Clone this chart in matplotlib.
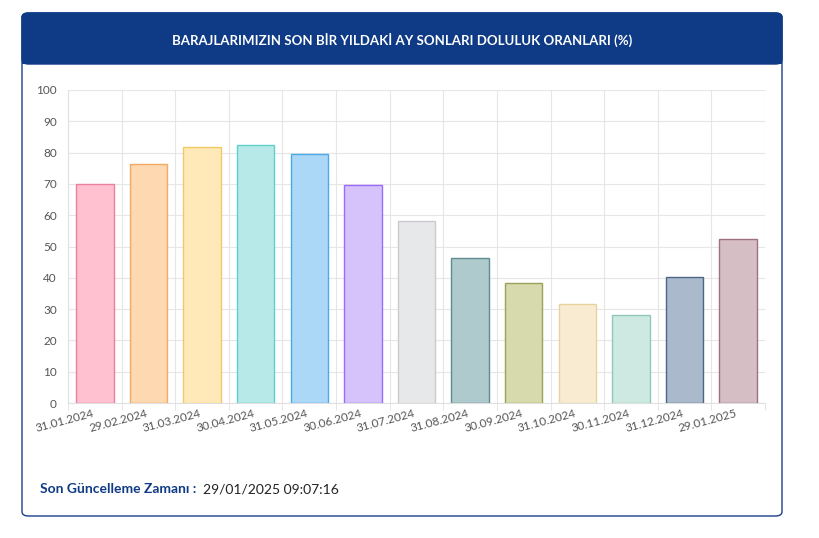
import matplotlib.pyplot as plt
from matplotlib.patches import FancyBboxPatch, Rectangle

dates = ["31.01.2024", "29.02.2024", "31.03.2024", "30.04.2024", "31.05.2024", "30.06.2024",
         "31.07.2024", "31.08.2024", "30.09.2024", "31.10.2024", "30.11.2024", "31.12.2024", "29.01.2025"]
values = [69.9, 76.2, 81.7, 82.5, 79.4, 69.5, 58.2, 46.4, 38.3, 31.7, 28.1, 40.1, 52.3]
fills = ["#ffc1d0", "#fed8b0", "#ffe9b8", "#b6e9e7", "#acd8f8", "#d6c3fb", "#e7e8ea",
         "#aecacd", "#d6daad", "#f8ebd1", "#cee9e2", "#abb9cd", "#d6bec5"]
edges = ["#ea809c", "#f1aa62", "#f1ca64", "#60d0ca", "#4ca9e7", "#9b6bff", "#c9cbcf",
         "#5f8c90", "#9aa25a", "#e7d3a0", "#90c8b8", "#4f6585", "#9e7080"]

plt.rcParams["font.family"] = "Lato"
fig = plt.figure(figsize=(8.2, 5.38), dpi=100)
W, H = 820, 538

# kart cercevesi ve baslik (eksenlerin arkasinda kalsin)
fig.patches.append(FancyBboxPatch((22 / W, 22 / H), 760 / W, 503 / H,
                                  boxstyle="round,pad=0,rounding_size=0.008", transform=fig.transFigure,
                                  facecolor="white", edgecolor="#1a3f8c", lw=1, zorder=-2))
fig.patches.append(FancyBboxPatch((22 / W, (538 - 64) / H), 760 / W, 51 / H,
                                  boxstyle="round,pad=0,rounding_size=0.008", transform=fig.transFigure,
                                  facecolor="#0e3a86", edgecolor="#0e3a86", zorder=-1))
fig.patches.append(Rectangle((22 / W, (538 - 64) / H), 760 / W, 15 / H,
                             transform=fig.transFigure, facecolor="#0e3a86", edgecolor="none", zorder=-1))
fig.text(402 / W, (538 - 40) / H, "BARAJLARIMIZIN SON BİR YILDAKİ AY SONLARI DOLULUK ORANLARI (%)",
         color="white", fontsize=9.5, fontweight="bold", ha="center", va="center")

ax = fig.add_axes([68 / W, (538 - 403) / H, 697 / W, 313 / H])
x = range(len(values))
ax.bar(x, values, width=0.7, color=fills, edgecolor=edges, linewidth=1, zorder=3)
ax.set_xlim(-0.5, len(values) - 0.5)
ax.set_ylim(0, 100)
ax.set_yticks(range(0, 101, 10))
ax.set_xticks([i - 0.5 for i in range(len(values) + 1)], minor=True)
ax.set_xticks(list(x))
ax.set_xticklabels(dates, rotation=15, ha="right", fontsize=8.5, color="#555555")
ax.tick_params(axis="y", labelsize=8.5, labelcolor="#555555", length=0, pad=8)
ax.tick_params(axis="x", length=0)
ax.tick_params(axis="x", which="minor", length=5, color="#e0e0e0")
ax.grid(axis="y", color="#e6e6e6", zorder=0)
ax.grid(axis="x", which="minor", color="#e6e6e6", zorder=0)
for s in ["top", "right"]:
    ax.spines[s].set_visible(False)
ax.spines["left"].set_color("#e0e0e0")
ax.spines["bottom"].set_color("#e0e0e0")

fig.text(40 / W, (538 - 489) / H, "Son Güncelleme Zamanı :", color="#0e3a86", fontsize=10,
         fontweight="bold", va="center")
fig.text(203 / W, (538 - 489) / H, "29/01/2025 09:07:16", color="#222222", fontsize=10, va="center")

fig.savefig("out.png", dpi=100)
